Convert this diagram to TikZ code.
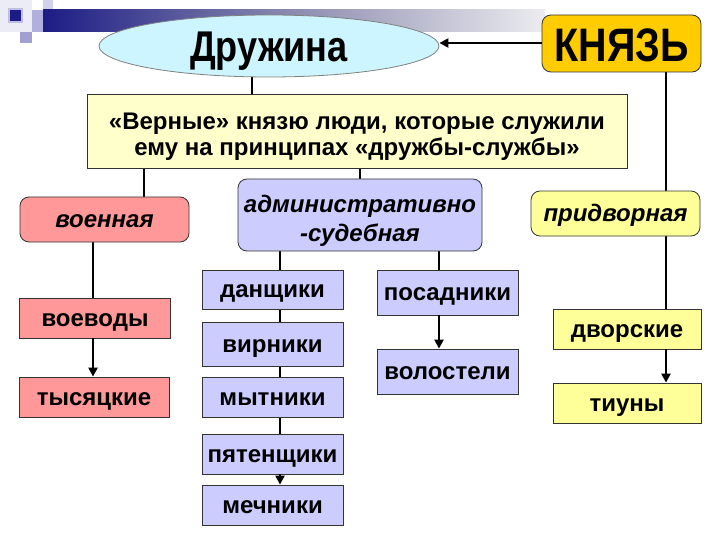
\documentclass[tikz,border=0pt]{standalone}
\usepackage{fontspec}
\setmainfont{Liberation Sans}
\newfontfamily\nrwfont{Liberation Sans}[FakeStretch=0.84]
\usetikzlibrary{shapes.geometric,arrows.meta,backgrounds}
\definecolor{salmon}{HTML}{FF9999}
\definecolor{lav}{HTML}{CCCCFF}
\definecolor{yel}{HTML}{FFFF99}
\definecolor{paleyel}{HTML}{FFFFCC}
\definecolor{cyanl}{HTML}{CCF5FF}
\definecolor{gold}{HTML}{FFCC00}
\definecolor{navy}{HTML}{1C1C86}
\definecolor{edge}{HTML}{333333}
\tikzset{
  box/.style={draw=edge, line width=0.8pt, inner sep=0pt, anchor=center, text=black},
  rbox/.style={box, rounded corners=9pt},
  leaf/.style={box, font=\bfseries\fontsize{24}{28}\selectfont, text height=17pt, text depth=1pt},
  cat/.style={rbox, font=\bfseries\itshape\fontsize{24}{29}\selectfont},
  catone/.style={cat, text height=17pt, text depth=1pt},
  conn/.style={line width=2.6pt, black},
  arr/.style={conn, -{Triangle[length=9pt,width=9pt]}},
}
\begin{document}
\begin{tikzpicture}[x=1pt,y=-1pt]
\useasboundingbox (0,0) rectangle (720,540);
% decoration
\fill[fill={rgb,255:red,236;green,236;blue,246}] (0,0) rectangle (32,32);
\fill[fill={rgb,255:red,210;green,210;blue,236}] (43,0) rectangle (53,20);
\shade[left color=navy, right color={rgb,255:red,236;green,236;blue,240}, middle color={rgb,255:red,140;green,140;blue,175}] (43,10) rectangle (545,32);
\fill[fill={rgb,255:red,176;green,176;blue,222}] (32,10) rectangle (43,32);
\fill[fill={rgb,255:red,160;green,160;blue,210}] (20,32) rectangle (32,43);
\fill[fill={rgb,255:red,190;green,190;blue,230}] (8,8) rectangle (23,23);
\fill[navy] (10,10) rectangle (21,21);

\node[box, ellipse, draw=gray, fill=cyanl, minimum width=340pt, minimum height=62pt, font=\nrwfont\bfseries\fontsize{43}{46}\selectfont, text height=30.5pt, text depth=0pt] (druzh) at (269,46) {Дружина};
\node[rbox, fill=gold, minimum width=159pt, minimum height=57pt, font=\nrwfont\bfseries\fontsize{47}{50}\selectfont, text height=36.5pt, text depth=0pt] (knyaz) at (621.5,43.5) {КНЯЗЬ};
\node[box, fill=paleyel, minimum width=540pt, minimum height=74pt, align=center, font=\bfseries\fontsize{24}{25.5}\selectfont] (big) at (357,131) {\rule{0pt}{28pt}«Верные» князю люди, которые служили\\ему на принципах «дружбы-службы»};

\node[catone, fill=salmon, minimum width=169pt, minimum height=45pt] (voen) at (104.5,219.5) {военная};
\node[cat, fill=lav, minimum width=244pt, minimum height=72pt, align=center] (admin) at (360,215) {\rule{0pt}{28pt}административно\\-судебная};
\node[catone, fill=yel, minimum width=169pt, minimum height=45pt] (pridv) at (615.5,213.5) {придворная};

\node[leaf, fill=salmon, minimum width=151pt, minimum height=40pt] (voev) at (95,318) {воеводы};
\node[leaf, fill=salmon, minimum width=150pt, minimum height=40pt] (tys) at (94,397) {тысяцкие};

\node[leaf, fill=lav, minimum width=141pt, minimum height=39pt] (dan) at (272.5,289.5) {данщики};
\node[leaf, fill=lav, minimum width=141pt, minimum height=44pt] (vir) at (272.5,344) {вирники};
\node[leaf, fill=lav, minimum width=141pt, minimum height=40pt] (myt) at (272.5,397) {мытники};
\node[leaf, fill=lav, minimum width=141pt, minimum height=40pt] (pyat) at (272.5,454) {пятенщики};
\node[leaf, fill=lav, minimum width=141pt, minimum height=40pt] (mech) at (272.5,505) {мечники};

\node[leaf, fill=lav, minimum width=141pt, minimum height=45pt] (posad) at (447.5,292.5) {посадники};
\node[leaf, fill=lav, minimum width=141pt, minimum height=45pt] (volost) at (447.5,371.5) {волостели};

\node[leaf, fill=yel, minimum width=148pt, minimum height=40pt] (dvor) at (627,329) {дворские};
\node[leaf, fill=yel, minimum width=148pt, minimum height=40pt] (tiun) at (627,403) {тиуны};

\begin{scope}[on background layer]
\draw[conn] ([xshift=-17pt]druzh.center) -- ([xshift=-17pt]druzh.center |- big.north);
\draw[conn] ([xshift=44.5pt]knyaz.center) -- ([xshift=44.5pt]knyaz.center |- pridv.north);
\draw[conn] ([xshift=-213pt]big.center) -- ([xshift=-213pt]big.center |- voen.north);
\draw[conn] (admin.north |- big.center) -- (admin.north);
\draw[conn] ([xshift=-2pt]voev.north |- voen.center) -- ([xshift=-2pt]voev.north);
\draw[conn] ([xshift=-80pt]admin.center) -- ([xshift=-80pt]admin.center |- dan.north);
\draw[conn] ([xshift=79pt]admin.center) -- ([xshift=79pt]admin.center |- posad.north);
\draw[conn] ([xshift=7.5pt]dan.center) -- ([xshift=7.5pt]vir.center);
\draw[conn] ([xshift=7.5pt]vir.center) -- ([xshift=7.5pt]myt.center);
\draw[conn] ([xshift=7.5pt]myt.center) -- ([xshift=7.5pt]pyat.center);
\draw[conn] ([xshift=50.5pt]pridv.center) -- ([xshift=50.5pt]pridv.center |- dvor.north);
\end{scope}
\draw[arr] ([yshift=3pt]knyaz.west |- druzh.east) -- ([yshift=3pt]druzh.east);
\draw[arr] ([xshift=-2pt]voev.south) -- ([xshift=-1pt]tys.north);
\draw[arr] ([xshift=7.5pt]pyat.south) -- ([xshift=7.5pt]mech.north);
\draw[arr] ([xshift=-8.5pt]posad.south) -- ([xshift=-8.5pt]volost.north);
\draw[arr] ([xshift=39pt]dvor.south) -- ([xshift=39pt]tiun.north);
\end{tikzpicture}
\end{document}
